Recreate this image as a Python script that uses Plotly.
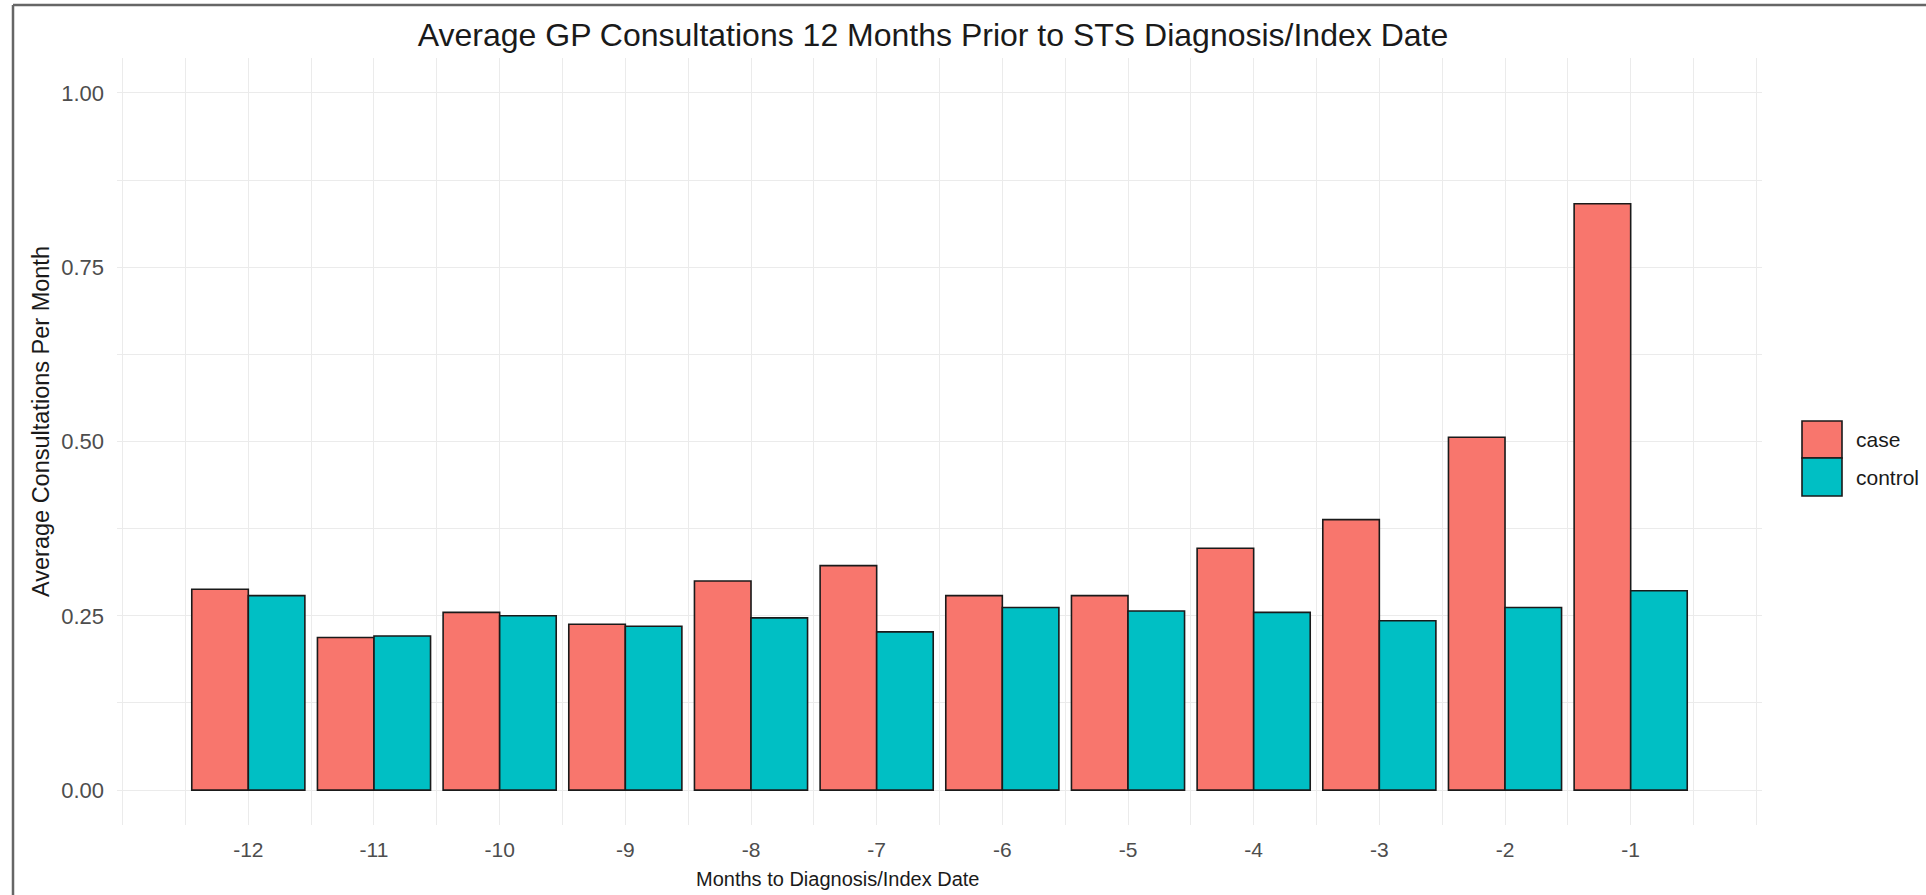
import plotly.graph_objects as go

# ---- data ----
months = [-12, -11, -10, -9, -8, -7, -6, -5, -4, -3, -2, -1]
case_values = [0.288, 0.219, 0.255, 0.238, 0.300, 0.322, 0.279, 0.279, 0.347, 0.388, 0.506, 0.841]
control_values = [0.279, 0.221, 0.250, 0.235, 0.247, 0.227, 0.262, 0.257, 0.255, 0.243, 0.262, 0.286]
groups = ["case", "control"]
group_colors = {"case": "#F8766D", "control": "#00BFC4"}
y_ticks = [0.0, 0.25, 0.5, 0.75, 1.0]
y_tick_labels = ["0.00", "0.25", "0.50", "0.75", "1.00"]

W, H = 1926, 895
L, R, T, B = 117, 1762, 58, 825  # plot area pixel bounds


def px_x(p):
    return (p - L) / (R - L)


def px_y(p):
    return (B - p) / (B - T)


fig = go.Figure()
for name, vals in zip(groups, [case_values, control_values]):
    fig.add_trace(go.Bar(
        x=months, y=vals, name=name,
        marker=dict(color=group_colors[name], line=dict(color="#1a1a1a", width=1.6)),
        showlegend=False,
    ))

grid = "#EBEBEB"
fig.update_layout(
    width=W, height=H,
    paper_bgcolor="white", plot_bgcolor="white",
    barmode="group", bargap=0.1, bargroupgap=0,
    margin=dict(l=L, r=W - R, t=T, b=H - B, autoexpand=False),
    font=dict(family="Liberation Sans, Arial, sans-serif", color="#4D4D4D"),
    title=dict(
        text="Average GP Consultations 12 Months Prior to STS Diagnosis/Index Date",
        font=dict(size=32, color="#1a1a1a"),
        x=px_x(933), xref="paper", xanchor="center",
        y=1 - 35 / H, yref="container", yanchor="middle",
    ),
    xaxis=dict(
        range=[-13.045, 0.045],
        tickvals=months, ticktext=[str(m) for m in months],
        tickfont=dict(size=21, color="#4D4D4D"),
        showgrid=True, gridcolor=grid, gridwidth=1.2,
        minor=dict(dtick=0.5, tick0=-13, showgrid=True, gridcolor=grid, gridwidth=1.2),
        zeroline=False, showline=False, ticks="",
        ticklabelstandoff=10,
    ),
    yaxis=dict(
        range=[-0.05, 1.05],
        tickvals=y_ticks, ticktext=y_tick_labels,
        tickfont=dict(size=22, color="#4D4D4D"),
        showgrid=True, gridcolor=grid, gridwidth=1.2,
        minor=dict(dtick=0.125, tick0=0, showgrid=True, gridcolor=grid, gridwidth=1.2),
        zeroline=False, showline=False, ticks="",
        ticklabelstandoff=12,
    ),
)

# axis titles
fig.add_annotation(xref="paper", yref="paper", x=px_x(838), y=px_y(879),
                   text="Months to Diagnosis/Index Date", showarrow=False,
                   xanchor="center", yanchor="middle",
                   font=dict(size=20, color="#1a1a1a"))
fig.add_annotation(xref="paper", yref="paper", x=px_x(41), y=px_y(422),
                   text="Average Consultations Per Month", showarrow=False, textangle=-90,
                   xanchor="center", yanchor="middle",
                   font=dict(size=23.5, color="#1a1a1a"))

# custom legend (large keys, as in the reference)
key_rows = [(421, 458), (458, 496)]
for name, (y0, y1) in zip(groups, key_rows):
    fig.add_shape(type="rect", xref="paper", yref="paper",
                  x0=px_x(1802), x1=px_x(1842), y0=px_y(y1), y1=px_y(y0),
                  fillcolor=group_colors[name], line=dict(color="#1a1a1a", width=1.6))
    fig.add_annotation(xref="paper", yref="paper", x=px_x(1854), y=px_y((y0 + y1) / 2),
                       text=name, showarrow=False, xanchor="left", yanchor="middle",
                       font=dict(size=21, color="#1a1a1a"))

# screenshot frame (top and left edges)
fig.add_shape(type="line", xref="paper", yref="paper",
              x0=px_x(13), x1=px_x(W), y0=px_y(5), y1=px_y(5),
              line=dict(color="#666666", width=2.5))
fig.add_shape(type="line", xref="paper", yref="paper",
              x0=px_x(13), x1=px_x(13), y0=px_y(5), y1=px_y(H),
              line=dict(color="#666666", width=2.5))

fig.write_html("out.html", config={"displayModeBar": False},
               post_script="document.body.style.margin='0';document.body.style.overflow='hidden';")
